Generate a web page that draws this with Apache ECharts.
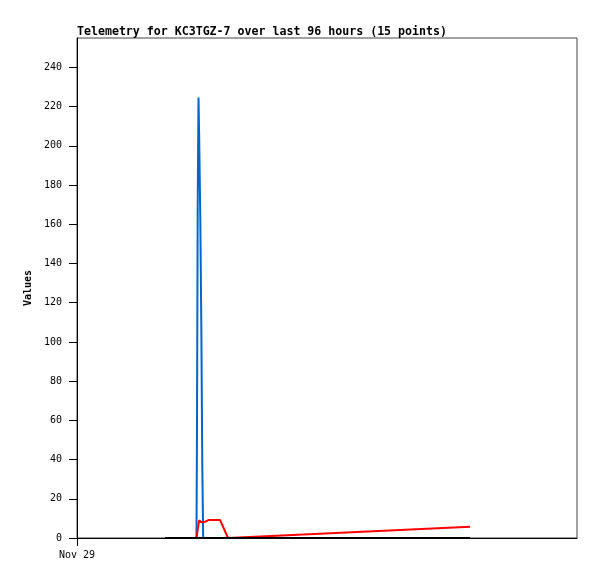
<!DOCTYPE html>
<html>
<head>
<meta charset="utf-8">
<script src="https://cdn.jsdelivr.net/npm/echarts@6/dist/echarts.min.js"></script>
<style>
html,body{margin:0;padding:0;background:#fff;}
#chart{width:597px;height:579px;}
</style>
</head>
<body>
<div id="chart"></div>
<script>
// hours since Nov 29 00:00
var hours = [16.9, 22.94, 23.04, 23.17, 23.33, 23.46, 23.67, 23.87, 24.06, 24.23, 24.6, 25.34, 27.46, 29.0, 75.46];
var blueValues = [0, 0, 56, 168, 224.6, 204, 164, 108, 36, 0, 0, 0, 0, 0, 0];
var redValues = [0, 0, 2, 4, 7, 9, 8.5, 8, 8, 8, 8.3, 9.2, 9.2, 0, 5.7];
var blackValues = [0, 0, 0, 0, 0, 0, 0, 0, 0, 0, 0, 0, 0, 0, 0];
var xTickLabels = ['Nov 29'];
var titleText = 'Telemetry for KC3TGZ-7 over last 96 hours (15 points)';

function pairs(vals){ return hours.map(function(h,i){ return [h, vals[i]]; }); }

var font = '"DejaVu Sans Mono", monospace';
var chart = echarts.init(document.getElementById('chart'), null, {renderer:'canvas'});
chart.setOption({
  animation: false,
  backgroundColor: '#fff',
  title: {
    text: titleText, left: 77, top: 26, padding: 0,
    textStyle: {fontFamily: font, fontSize: 11.6, fontWeight: 'bold', color: '#000'}
  },
  grid: {left: 77, right: 20, top: 38, bottom: 41, show: true, borderColor: '#444', borderWidth: 1, backgroundColor: 'transparent'},
  xAxis: {
    type: 'value', min: 0, max: 96, interval: 96,
    axisLine: {show: true, onZero: false, lineStyle: {color: '#000', width: 1}},
    axisTick: {show: true, length: 8, inside: false, customValues: [0], lineStyle: {color: '#000'}},
    axisLabel: {show: true, customValues: [0], margin: 12, fontFamily: font, fontSize: 10, color: '#000',
      formatter: function(v){ return v === 0 ? xTickLabels[0] : ''; }},
    splitLine: {show: false}
  },
  yAxis: {
    type: 'value', min: 0, max: 255, interval: 20,
    name: 'Values', nameLocation: 'middle', nameGap: 35,
    nameTextStyle: {fontFamily: font, fontSize: 10, fontWeight: 'bold', color: '#000', padding: [0, 0, 8, 0]},
    axisLine: {show: true, lineStyle: {color: '#000', width: 1}},
    axisTick: {show: true, length: 8, lineStyle: {color: '#000'}},
    axisLabel: {margin: 15, fontFamily: font, fontSize: 10, color: '#000', showMaxLabel: false},
    splitLine: {show: false}
  },
  series: [
    {type: 'line', data: pairs(blueValues), showSymbol: false, lineStyle: {color: '#0066cc', width: 2}, itemStyle:{color:'#0066cc'}},
    {type: 'line', data: pairs(redValues), showSymbol: false, lineStyle: {color: '#ff0000', width: 2}, itemStyle:{color:'#ff0000'}},
    {type: 'line', data: pairs(blackValues), showSymbol: false, lineStyle: {color: '#000000', width: 2}, itemStyle:{color:'#000'}}
  ]
});
</script>
</body>
</html>
